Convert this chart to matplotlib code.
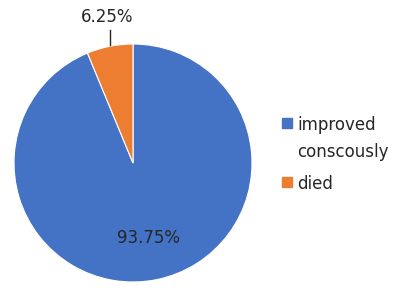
import matplotlib.pyplot as plt
from matplotlib.patches import Rectangle

labels = ["improved\nconscously", "died"]
values = [93.75, 6.25]
pct_text = ["93.75%", "6.25%"]
colors = ["#4472C4", "#ED7D31"]

W, H = 395, 288
fig = plt.figure(figsize=(W / 100, H / 100), dpi=100)

# pie centre and radius in pixels
cx, cy, r = 133, 163, 119
ax = fig.add_axes([(cx - r) / W, (H - cy - r) / H, 2 * r / W, 2 * r / H])

wedges, _ = ax.pie(values, colors=colors, startangle=90, counterclock=False,
                   radius=1, wedgeprops=dict(edgecolor="white", linewidth=0.8))
ax.set_xlim(-1, 1)
ax.set_ylim(-1, 1)
ax.axis("off")

ax.text(0.134, -0.63, pct_text[0], ha="center", va="center",
        fontsize=12, color="#262626")
ax.text(-0.215, 1.225, pct_text[1], ha="center", va="center",
        fontsize=12, color="#262626", clip_on=False)
ax.plot([-0.193, -0.193], [1.115, 0.99], color="#262626", lw=1, clip_on=False)

# legend drawn by hand so the square sits on the first text line
leg_y = [123, 182]
for lab, col, y in zip(labels, colors, leg_y):
    fig.patches.append(Rectangle((282 / W, 1 - (y + 5) / H), 10 / W, 10 / H,
                                 transform=fig.transFigure, color=col))
    fig.text(297 / W, 1 - (y - 7) / H, lab, ha="left", va="top", fontsize=12,
             color="#262626", linespacing=1.65)

fig.savefig("out.png", dpi=100)
